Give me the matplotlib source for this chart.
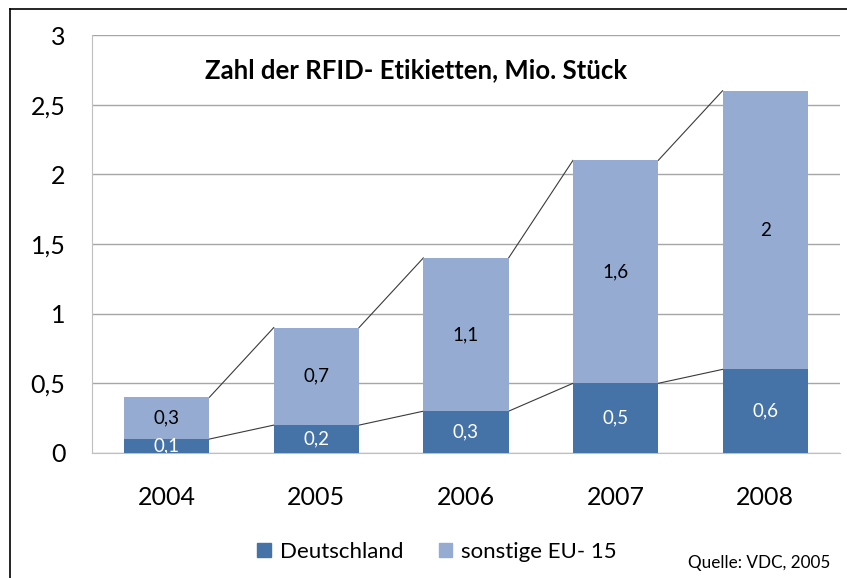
"""Stacked bars: RFID labels, Germany vs. other EU-15 (Mio. Stück)."""
import matplotlib
matplotlib.use("Agg")
import matplotlib.pyplot as plt
from matplotlib.lines import Line2D
from matplotlib.patches import Patch
import numpy as np

years = ["2004", "2005", "2006", "2007", "2008"]
deutschland = [0.1, 0.2, 0.3, 0.5, 0.6]
sonstige = [0.3, 0.7, 1.1, 1.6, 2.0]
yticks = [0, 0.5, 1, 1.5, 2, 2.5, 3]

DARK = "#4572A7"
LIGHT = "#95ABD2"
FONT = ["Lato", "DejaVu Sans"]


def fmt(v):
    return f"{v:g}".replace(".", ",")


def main() -> None:
    plt.rcParams["font.family"] = FONT
    fig = plt.figure(figsize=(8.47, 5.78), dpi=100)
    ax = fig.add_axes([0.1086, 0.2163, 0.8831, 0.7231])

    x = np.arange(len(years))
    w = 0.57
    ax.bar(x, deutschland, w, color=DARK, zorder=3)
    ax.bar(x, sonstige, w, bottom=deutschland, color=LIGHT, zorder=3)

    totals = [d + s for d, s in zip(deutschland, sonstige)]
    # series lines from bar edge to next bar edge
    for tops in (deutschland, totals):
        for i in range(len(x) - 1):
            ax.plot([x[i] + w / 2, x[i + 1] - w / 2], [tops[i], tops[i + 1]],
                    color="#3a3a3a", lw=0.8, zorder=2)

    for i in range(len(x)):
        ax.text(x[i], deutschland[i] / 2, fmt(deutschland[i]), ha="center", va="center",
                color="white", fontsize=13.5, zorder=4, clip_on=True)
        ax.text(x[i], deutschland[i] + sonstige[i] / 2, fmt(sonstige[i]), ha="center",
                va="center", color="black", fontsize=13.5, zorder=4)

    ax.set_xlim(-0.5, len(x) - 0.5)
    ax.set_ylim(0, 3)
    ax.set_yticks(yticks)
    ax.set_yticklabels([fmt(v) for v in yticks], fontsize=18)
    ax.set_xticks(x)
    ax.set_xticklabels(years, fontsize=18)
    ax.tick_params(axis="y", length=0, pad=19)
    ax.tick_params(axis="x", length=0, pad=24)
    ax.grid(axis="y", color="#a6a6a6", lw=1, zorder=0)
    for side in ("top", "right"):
        ax.spines[side].set_visible(False)
    ax.spines["left"].set_color("#bfbfbf")
    ax.spines["bottom"].set_color("#bfbfbf")

    ax.text(0.433, 0.916, "Zahl der RFID- Etikietten, Mio. Stück", transform=ax.transAxes,
            ha="center", va="center", fontsize=18.5, fontweight="bold")

    handles = [Patch(color=DARK, label="Deutschland"), Patch(color=LIGHT, label="sonstige EU- 15")]
    fig.legend(handles=handles, loc="center", bbox_to_anchor=(0.516, 0.045), ncol=2,
               frameon=False, fontsize=16, handlelength=0.6, handleheight=0.6,
               handletextpad=0.4, columnspacing=1.6)
    fig.text(0.98, 0.026, "Quelle: VDC, 2005", ha="right", va="center", fontsize=12.3)

    # outer chart frame (left and top edges visible)
    fig.add_artist(Line2D([10 / 847, 10 / 847], [0, 1 - 9 / 578], transform=fig.transFigure,
                          color="black", lw=1.2))
    fig.add_artist(Line2D([10 / 847, 1], [1 - 9 / 578, 1 - 9 / 578], transform=fig.transFigure,
                          color="black", lw=1.2))

    fig.savefig("out.png", dpi=100)
    plt.close(fig)


if __name__ == "__main__":
    main()
